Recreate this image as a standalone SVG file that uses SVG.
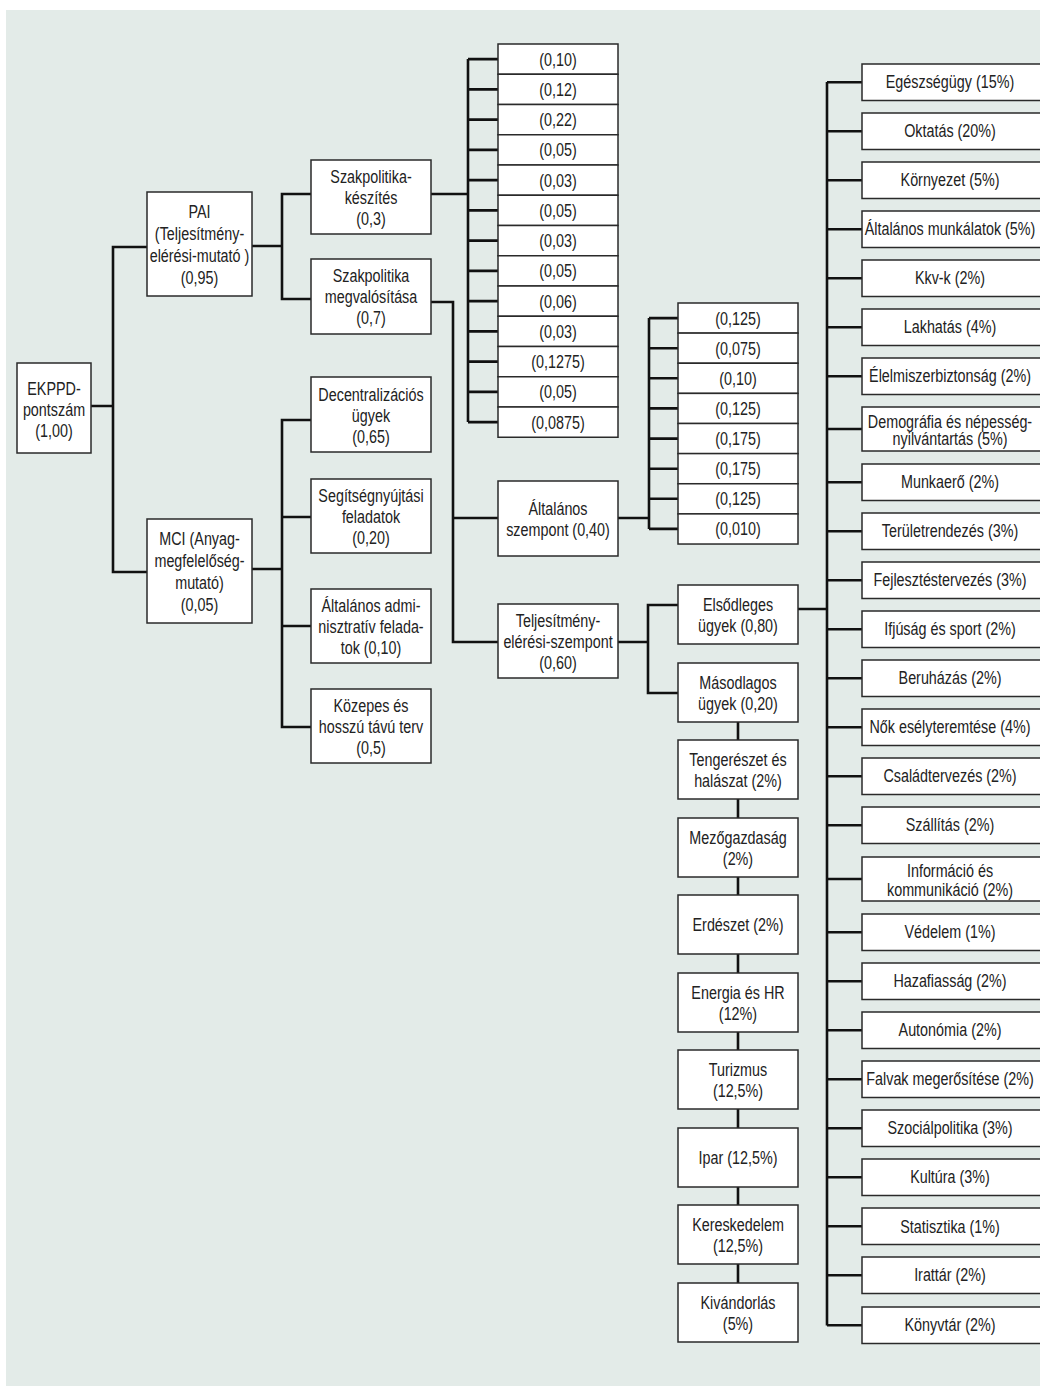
<svg xmlns="http://www.w3.org/2000/svg" width="1040" height="1386" viewBox="0 0 1040 1386">
<style>
.bg{fill:#E3EBE8}
.box{fill:#fff;stroke:#2a2a2a;stroke-width:1.5}
.ln{fill:none;stroke:#111;stroke-width:2.6;stroke-linejoin:miter}
text{font-family:"Liberation Sans",Arial,sans-serif;font-size:17.5px;fill:#222;text-anchor:middle}
</style>
<rect class="bg" x="6" y="10" width="1040" height="1380"/>
<g id="connectors">
<path class="ln" d="M91,406 H113 M147,247 H113 V572 H147"/>
<path class="ln" d="M252,246 H282 M311,194 H282 V299 H311"/>
<path class="ln" d="M252,569 H282 M311,420 H282 V727 H311 M282,517 H311 M282,626 H311"/>
<path class="ln" d="M431,194 H468 M468,59 V422.1 M468,59.1 H498 M468,89.4 H498 M468,119.6 H498 M468,149.9 H498 M468,180.1 H498 M468,210.4 H498 M468,240.6 H498 M468,270.9 H498 M468,301.1 H498 M468,331.4 H498 M468,361.6 H498 M468,391.9 H498 M468,422.1 H498"/>
<path class="ln" d="M431,302 H453 V642 H498 M453,518 H498"/>
<path class="ln" d="M618,518 H649 M649,318.1 V528.9 M649,318.1 H678 M649,348.2 H678 M649,378.3 H678 M649,408.4 H678 M649,438.6 H678 M649,468.7 H678 M649,498.8 H678 M649,528.9 H678"/>
<path class="ln" d="M618,642 H648 M678,605 H648 V693 H678"/>
<path class="ln" d="M738,722 V1283"/>
<path class="ln" d="M798,609 H827 M827,82 V1325.5 M827,82.25 H862 M827,131.25 H862 M827,180.25 H862 M827,229.25 H862 M827,278.25 H862 M827,327.25 H862 M827,376.25 H862 M827,429 H862 M827,482.25 H862 M827,531.25 H862 M827,580.25 H862 M827,629.25 H862 M827,678.25 H862 M827,727.25 H862 M827,776.25 H862 M827,825.25 H862 M827,879 H862 M827,932.25 H862 M827,981.25 H862 M827,1030.25 H862 M827,1079.25 H862 M827,1128.25 H862 M827,1177.25 H862 M827,1226.25 H862 M827,1275.25 H862 M827,1325.25 H862"/>
</g>
<g id="ekppd"><rect class="box" x="17" y="363" width="74" height="90"/><g transform="matrix(0.82 0 0 1 54 0)"><text y="395">EKPPD-</text><text y="416">pontszám</text><text y="437">(1,00)</text></g></g>
<g id="pai"><rect class="box" x="147" y="192" width="105" height="104"/><g transform="matrix(0.82 0 0 1 199.5 0)"><text y="218">PAI</text><text y="240">(Teljesítmény-</text><text y="262">elérési-mutató )</text><text y="284">(0,95)</text></g></g>
<g id="mci"><rect class="box" x="147" y="519" width="105" height="104"/><g transform="matrix(0.82 0 0 1 199.5 0)"><text y="545">MCI (Anyag-</text><text y="567">megfelelőség-</text><text y="589">mutató)</text><text y="611">(0,05)</text></g></g>
<g id="szak-kesz"><rect class="box" x="311" y="160" width="120" height="74"/><g transform="matrix(0.82 0 0 1 371 0)"><text y="183">Szakpolitika-</text><text y="204">készítés</text><text y="225">(0,3)</text></g></g>
<g id="szak-megv"><rect class="box" x="311" y="259" width="120" height="75"/><g transform="matrix(0.82 0 0 1 371 0)"><text y="282">Szakpolitika</text><text y="303">megvalósítása</text><text y="324">(0,7)</text></g></g>
<g id="decentr"><rect class="box" x="311" y="377" width="120" height="75"/><g transform="matrix(0.82 0 0 1 371 0)"><text y="401">Decentralizációs</text><text y="422">ügyek</text><text y="443">(0,65)</text></g></g>
<g id="segits"><rect class="box" x="311" y="479" width="120" height="74"/><g transform="matrix(0.82 0 0 1 371 0)"><text y="502">Segítségnyújtási</text><text y="523">feladatok</text><text y="544">(0,20)</text></g></g>
<g id="altadmin"><rect class="box" x="311" y="589" width="120" height="74"/><g transform="matrix(0.82 0 0 1 371 0)"><text y="612">Általános admi-</text><text y="633">nisztratív felada-</text><text y="654">tok (0,10)</text></g></g>
<g id="kozepes"><rect class="box" x="311" y="689" width="120" height="74"/><g transform="matrix(0.82 0 0 1 371 0)"><text y="712">Közepes és</text><text y="733">hosszú távú terv</text><text y="754">(0,5)</text></g></g>
<g id="sk-values">
<rect class="box" x="498" y="44" width="120" height="30.25"/>
<rect class="box" x="498" y="74.25" width="120" height="30.25"/>
<rect class="box" x="498" y="104.5" width="120" height="30.25"/>
<rect class="box" x="498" y="134.75" width="120" height="30.25"/>
<rect class="box" x="498" y="165" width="120" height="30.25"/>
<rect class="box" x="498" y="195.25" width="120" height="30.25"/>
<rect class="box" x="498" y="225.5" width="120" height="30.25"/>
<rect class="box" x="498" y="255.75" width="120" height="30.25"/>
<rect class="box" x="498" y="286" width="120" height="30.25"/>
<rect class="box" x="498" y="316.25" width="120" height="30.25"/>
<rect class="box" x="498" y="346.5" width="120" height="30.25"/>
<rect class="box" x="498" y="376.75" width="120" height="30.25"/>
<rect class="box" x="498" y="407" width="120" height="30.25"/>
<g transform="matrix(0.82 0 0 1 558 0)">
<text y="65.6">(0,10)</text><text y="95.9">(0,12)</text><text y="126.1">(0,22)</text><text y="156.4">(0,05)</text><text y="186.6">(0,03)</text><text y="216.9">(0,05)</text><text y="247.1">(0,03)</text><text y="277.4">(0,05)</text><text y="307.6">(0,06)</text><text y="337.9">(0,03)</text><text y="368.1">(0,1275)</text><text y="398.4">(0,05)</text><text y="428.6">(0,0875)</text>
</g>
</g>
<g id="altszempont"><rect class="box" x="498" y="481" width="120" height="75"/><g transform="matrix(0.82 0 0 1 558 0)"><text y="515">Általános</text><text y="536">szempont (0,40)</text></g></g>
<g id="teljszempont"><rect class="box" x="498" y="604" width="120" height="74"/><g transform="matrix(0.82 0 0 1 558 0)"><text y="627">Teljesítmény-</text><text y="648">elérési-szempont</text><text y="669">(0,60)</text></g></g>
<g id="asz-values">
<rect class="box" x="678" y="303" width="120" height="30.125"/>
<rect class="box" x="678" y="333.1" width="120" height="30.125"/>
<rect class="box" x="678" y="363.25" width="120" height="30.125"/>
<rect class="box" x="678" y="393.4" width="120" height="30.125"/>
<rect class="box" x="678" y="423.5" width="120" height="30.125"/>
<rect class="box" x="678" y="453.6" width="120" height="30.125"/>
<rect class="box" x="678" y="483.75" width="120" height="30.125"/>
<rect class="box" x="678" y="513.9" width="120" height="30.125"/>
<g transform="matrix(0.82 0 0 1 738 0)">
<text y="324.6">(0,125)</text><text y="354.7">(0,075)</text><text y="384.8">(0,10)</text><text y="414.9">(0,125)</text><text y="445.1">(0,175)</text><text y="475.2">(0,175)</text><text y="505.3">(0,125)</text><text y="535.4">(0,010)</text>
</g>
</g>
<g id="elsodleges"><rect class="box" x="678" y="585" width="120" height="59"/><g transform="matrix(0.82 0 0 1 738 0)"><text y="611">Elsődleges</text><text y="632">ügyek (0,80)</text></g></g>
<g id="masodlagos"><rect class="box" x="678" y="663" width="120" height="59"/><g transform="matrix(0.82 0 0 1 738 0)"><text y="689">Másodlagos</text><text y="710">ügyek (0,20)</text></g></g>
<g id="tengereszet"><rect class="box" x="678" y="740" width="120" height="59"/><g transform="matrix(0.82 0 0 1 738 0)"><text y="766">Tengerészet és</text><text y="787">halászat (2%)</text></g></g>
<g id="mezogazdasag"><rect class="box" x="678" y="818" width="120" height="59"/><g transform="matrix(0.82 0 0 1 738 0)"><text y="844">Mezőgazdaság</text><text y="865">(2%)</text></g></g>
<g id="erdeszet"><rect class="box" x="678" y="895" width="120" height="59"/><g transform="matrix(0.82 0 0 1 738 0)"><text y="931">Erdészet (2%)</text></g></g>
<g id="energia"><rect class="box" x="678" y="973" width="120" height="59"/><g transform="matrix(0.82 0 0 1 738 0)"><text y="999">Energia és HR</text><text y="1020">(12%)</text></g></g>
<g id="turizmus"><rect class="box" x="678" y="1050" width="120" height="59"/><g transform="matrix(0.82 0 0 1 738 0)"><text y="1076">Turizmus</text><text y="1097">(12,5%)</text></g></g>
<g id="ipar"><rect class="box" x="678" y="1128" width="120" height="59"/><g transform="matrix(0.82 0 0 1 738 0)"><text y="1164">Ipar (12,5%)</text></g></g>
<g id="kereskedelem"><rect class="box" x="678" y="1205" width="120" height="59"/><g transform="matrix(0.82 0 0 1 738 0)"><text y="1231">Kereskedelem</text><text y="1252">(12,5%)</text></g></g>
<g id="kivandorlas"><rect class="box" x="678" y="1283" width="120" height="59"/><g transform="matrix(0.82 0 0 1 738 0)"><text y="1309">Kivándorlás</text><text y="1330">(5%)</text></g></g>
<g id="r01"><rect class="box" x="862" y="64" width="182" height="36.5"/><g transform="matrix(0.82 0 0 1 950 0)"><text y="88.5">Egészségügy (15%)</text></g></g>
<g id="r02"><rect class="box" x="862" y="113" width="182" height="36.5"/><g transform="matrix(0.82 0 0 1 950 0)"><text y="137.5">Oktatás (20%)</text></g></g>
<g id="r03"><rect class="box" x="862" y="162" width="182" height="36.5"/><g transform="matrix(0.82 0 0 1 950 0)"><text y="186.5">Környezet (5%)</text></g></g>
<g id="r04"><rect class="box" x="862" y="211" width="182" height="36.5"/><g transform="matrix(0.82 0 0 1 950 0)"><text y="235.5">Általános munkálatok (5%)</text></g></g>
<g id="r05"><rect class="box" x="862" y="260" width="182" height="36.5"/><g transform="matrix(0.82 0 0 1 950 0)"><text y="284.5">Kkv-k (2%)</text></g></g>
<g id="r06"><rect class="box" x="862" y="309" width="182" height="36.5"/><g transform="matrix(0.82 0 0 1 950 0)"><text y="333.5">Lakhatás (4%)</text></g></g>
<g id="r07"><rect class="box" x="862" y="358" width="182" height="36.5"/><g transform="matrix(0.82 0 0 1 950 0)"><text y="382.5">Élelmiszerbiztonság (2%)</text></g></g>
<g id="r08"><rect class="box" x="862" y="407" width="182" height="44"/><g transform="matrix(0.82 0 0 1 950 0)"><text y="428">Demográfia és népesség-</text><text y="445">nyilvántartás (5%)</text></g></g>
<g id="r09"><rect class="box" x="862" y="464" width="182" height="36.5"/><g transform="matrix(0.82 0 0 1 950 0)"><text y="488.5">Munkaerő (2%)</text></g></g>
<g id="r10"><rect class="box" x="862" y="513" width="182" height="36.5"/><g transform="matrix(0.82 0 0 1 950 0)"><text y="537.5">Területrendezés (3%)</text></g></g>
<g id="r11"><rect class="box" x="862" y="562" width="182" height="36.5"/><g transform="matrix(0.82 0 0 1 950 0)"><text y="586.5">Fejlesztéstervezés (3%)</text></g></g>
<g id="r12"><rect class="box" x="862" y="611" width="182" height="36.5"/><g transform="matrix(0.82 0 0 1 950 0)"><text y="635.5">Ifjúság és sport (2%)</text></g></g>
<g id="r13"><rect class="box" x="862" y="660" width="182" height="36.5"/><g transform="matrix(0.82 0 0 1 950 0)"><text y="684.5">Beruházás (2%)</text></g></g>
<g id="r14"><rect class="box" x="862" y="709" width="182" height="36.5"/><g transform="matrix(0.82 0 0 1 950 0)"><text y="733.5">Nők esélyteremtése (4%)</text></g></g>
<g id="r15"><rect class="box" x="862" y="758" width="182" height="36.5"/><g transform="matrix(0.82 0 0 1 950 0)"><text y="782.5">Családtervezés (2%)</text></g></g>
<g id="r16"><rect class="box" x="862" y="807" width="182" height="36.5"/><g transform="matrix(0.82 0 0 1 950 0)"><text y="831.5">Szállítás (2%)</text></g></g>
<g id="r17"><rect class="box" x="862" y="857" width="182" height="44"/><g transform="matrix(0.82 0 0 1 950 0)"><text y="877">Információ és</text><text y="896">kommunikáció (2%)</text></g></g>
<g id="r18"><rect class="box" x="862" y="914" width="182" height="36.5"/><g transform="matrix(0.82 0 0 1 950 0)"><text y="938.5">Védelem (1%)</text></g></g>
<g id="r19"><rect class="box" x="862" y="963" width="182" height="36.5"/><g transform="matrix(0.82 0 0 1 950 0)"><text y="987.5">Hazafiasság (2%)</text></g></g>
<g id="r20"><rect class="box" x="862" y="1012" width="182" height="36.5"/><g transform="matrix(0.82 0 0 1 950 0)"><text y="1036.5">Autonómia (2%)</text></g></g>
<g id="r21"><rect class="box" x="862" y="1061" width="182" height="36.5"/><g transform="matrix(0.82 0 0 1 950 0)"><text y="1085.5">Falvak megerősítése (2%)</text></g></g>
<g id="r22"><rect class="box" x="862" y="1110" width="182" height="36.5"/><g transform="matrix(0.82 0 0 1 950 0)"><text y="1134.5">Szociálpolitika (3%)</text></g></g>
<g id="r23"><rect class="box" x="862" y="1159" width="182" height="36.5"/><g transform="matrix(0.82 0 0 1 950 0)"><text y="1183.5">Kultúra (3%)</text></g></g>
<g id="r24"><rect class="box" x="862" y="1208" width="182" height="36.5"/><g transform="matrix(0.82 0 0 1 950 0)"><text y="1232.5">Statisztika (1%)</text></g></g>
<g id="r25"><rect class="box" x="862" y="1257" width="182" height="36.5"/><g transform="matrix(0.82 0 0 1 950 0)"><text y="1281.5">Irattár (2%)</text></g></g>
<g id="r26"><rect class="box" x="862" y="1307" width="182" height="36.5"/><g transform="matrix(0.82 0 0 1 950 0)"><text y="1331.5">Könyvtár (2%)</text></g></g>
</svg>
